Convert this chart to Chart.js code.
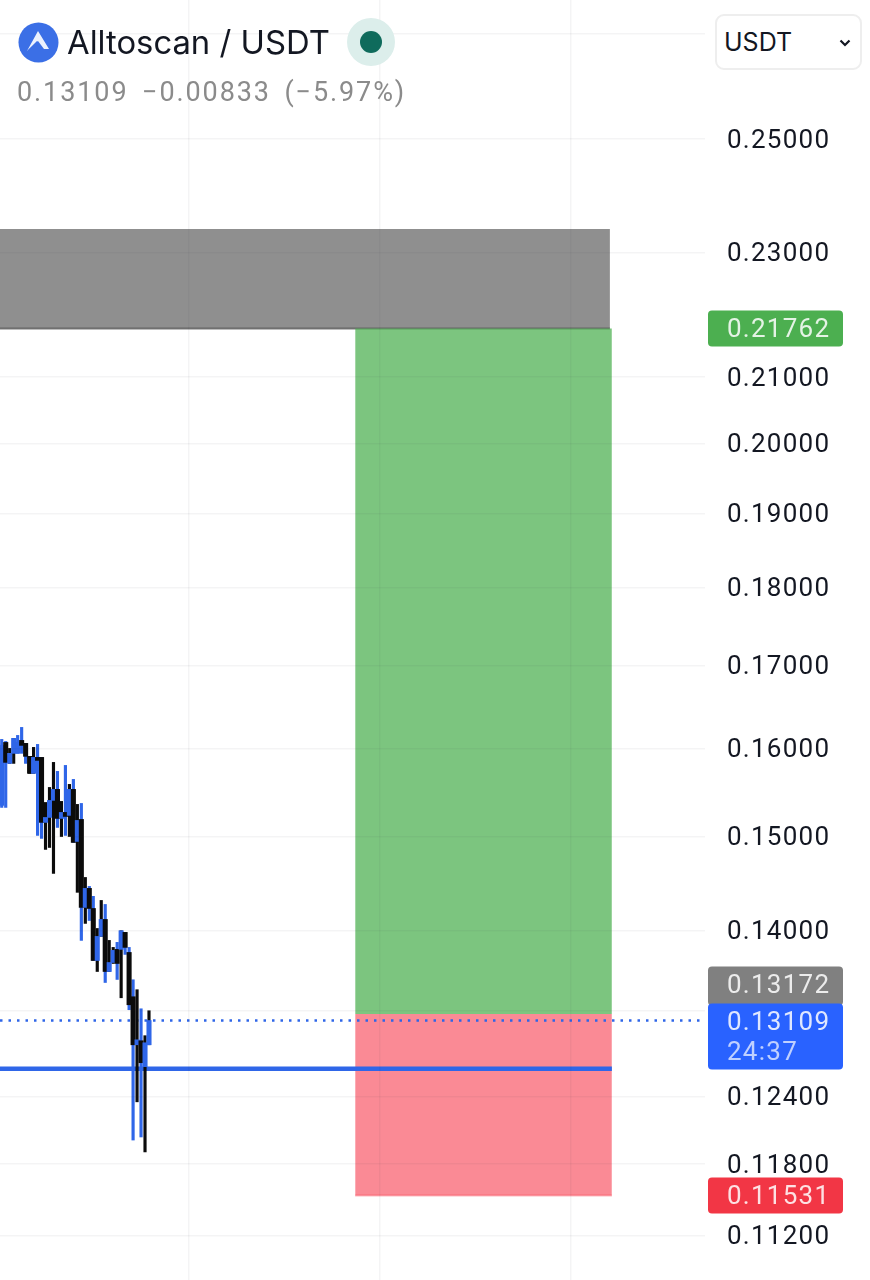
<!DOCTYPE html>
<html>
<head>
<meta charset="utf-8">
<title>Alltoscan / USDT</title>
<script src="https://cdn.jsdelivr.net/npm/chart.js@4/dist/chart.umd.min.js"></script>
<style>
    html, body { margin: 0; padding: 0; background: #fff; }
    body { width: 870px; height: 1280px; position: relative; overflow: hidden; font-family: Inter, sans-serif; }
    canvas { position: absolute; left: 0; top: 0; }
    .logo { position: absolute; left: 18px; top: 22px; width: 41px; height: 41px; }
    .title { position: absolute; left: 67px; top: 22px; font-size: 32.8px; line-height: 41px; color: #131722; white-space: nowrap; }
    .status { position: absolute; left: 347px; top: 18px; width: 48px; height: 48px; border-radius: 50%; background: #dceeeb; }
    .status div { position: absolute; left: 13px; top: 13px; width: 22px; height: 22px; border-radius: 50%; background: #0f6b5c; }
    .quote { position: absolute; left: 17px; top: 75px; font-family: Roboto, sans-serif; font-size: 27px; line-height: 35px; letter-spacing: 1.9px; word-spacing: 5px; color: #8b8b8b; white-space: pre; }
    .picker { position: absolute; left: 715px; top: 14px; width: 143px; height: 52px; border: 2px solid #eeeeee; border-radius: 9px; background: #fff; }
    .picker span { position: absolute; left: 7px; top: 9px; font-size: 25px; line-height: 34px; color: #131722; }
    .picker svg { position: absolute; left: 122px; top: 23px; }
</style>
</head>
<body>
<canvas id="chart" width="870" height="1280"></canvas>

<svg class="logo" viewBox="0 0 41 41">
    <circle cx="20.5" cy="20.5" r="20" fill="#3b6fe6"/>
    <path d="M9 29 L20 9 L31 27 L26 27 L20 19 Z" fill="#fff" opacity="0.9"/>
    <path d="M9 29 L19 19 L21 22 Z" fill="#3b6fe6"/>
</svg>
<div class="title">Alltoscan / USDT</div>
<div class="status"><div></div></div>
<div class="quote">0.13109 −0.00833 (−5.97%)</div>
<div class="picker">
    <span>USDT</span>
    <svg width="12" height="8" viewBox="0 0 12 8"><path d="M1.5 1.5 L6 6 L10.5 1.5" fill="none" stroke="#131722" stroke-width="2.2"/></svg>
</div>

<script>
// Candles, oldest first (visible part only)
const highs = [0.16106, 0.16082, 0.16000, 0.16118, 0.16153, 0.16248, 0.16059, 0.15907, 0.16012, 0.16047,
    0.15895, 0.15379, 0.15549, 0.15837, 0.15733, 0.15391, 0.15802, 0.15584, 0.15641, 0.15357,
    0.15368, 0.14557, 0.14462, 0.14357, 0.14023, 0.14314, 0.14272, 0.13901, 0.13830, 0.13881,
    0.14000, 0.13983, 0.13830, 0.13506, 0.13408, 0.13222, 0.12964, 0.13203];
const lows = [0.15323, 0.15323, 0.15825, 0.15825, 0.15942, 0.15942, 0.15825, 0.15710, 0.15710, 0.15012,
    0.14979, 0.14859, 0.14880, 0.14600, 0.15100, 0.15000, 0.15012, 0.15000, 0.14935, 0.14399,
    0.13901, 0.14075, 0.14105, 0.13698, 0.13588, 0.13942, 0.13479, 0.13588, 0.13668, 0.13509,
    0.13329, 0.13759, 0.13213, 0.12010, 0.12351, 0.12037, 0.11906, 0.12878];
const bodyTops = [0.16035, 0.16070, 0.15942, 0.16118, 0.16070, 0.16094, 0.16059, 0.15907, 0.15895, 0.15895,
    0.15895, 0.15211, 0.15402, 0.15527, 0.15527, 0.15267, 0.15267, 0.15527, 0.15527, 0.15178,
    0.15189, 0.14441, 0.14441, 0.14230, 0.13942, 0.14116, 0.14116, 0.13678, 0.13800, 0.13810,
    0.14000, 0.13983, 0.13779, 0.13339, 0.12925, 0.12916, 0.12897, 0.13109];
const bodyBottoms = [0.15346, 0.15837, 0.15825, 0.15942, 0.15942, 0.16035, 0.15907, 0.15710, 0.15710, 0.15860,
    0.15156, 0.15156, 0.15211, 0.15402, 0.15200, 0.15200, 0.15222, 0.15234, 0.14935, 0.14946,
    0.14241, 0.14241, 0.14230, 0.13698, 0.13698, 0.13942, 0.13588, 0.13588, 0.13678, 0.13668,
    0.13810, 0.13830, 0.13261, 0.12878, 0.12878, 0.12710, 0.12673, 0.12878];
// 1 = black, 0 = blue
const wickDark = [0, 0, 1, 1, 0, 0, 0, 1, 1, 0, 0, 1, 1, 1, 0, 1, 0, 1, 0, 1,
    0, 1, 0, 0, 1, 1, 0, 1, 1, 0, 1, 0, 0, 0, 1, 0, 1, 1];
const bodyDark = [0, 1, 0, 0, 0, 1, 1, 1, 0, 1, 1, 0, 0, 0, 1, 0, 1, 0, 1, 0,
    1, 0, 1, 1, 0, 0, 1, 0, 0, 1, 0, 1, 1, 1, 0, 1, 0, 0];

// Position tool, in prices and bar numbers
const stopTop = 0.23405;
const targetPrice = 0.21762;
const entryPrice = 0.13172;
const stopPrice = 0.11531;
const lastPrice = 0.13109;
const linePrice = 0.12655;
const zoneStartBar = 88.8;
const zoneEndBar = 153.3;
const greyEndBar = 152.8;

const tickValues = [0.27, 0.25, 0.23, 0.21, 0.20, 0.19, 0.18, 0.17, 0.16, 0.15, 0.14, 0.132, 0.124, 0.118, 0.112];
const gridBars = [47, 95, 143];
const countdown = '24:37';

const BLUE = '#2f66e8';
const BLACK = '#0b0b0b';
const GRID = 'rgba(42,46,57,0.05)';
const MIN_BAR = -0.437;
const MAX_BAR = 176.7;

function flatLine(y, from, to) {
    return [{ x: from, y: y }, { x: to, y: y }];
}

function roundedBox(ctx, x, y, w, h, color) {
    ctx.fillStyle = color;
    ctx.beginPath();
    ctx.roundRect(x, y, w, h, 4);
    ctx.fill();
}

// Axis digits in the picture are wider than the font's own spacing
const digitSpacing = {
    id: 'digitSpacing',
    beforeDraw(chart) {
        chart.ctx.letterSpacing = '1.25px';
    }
};

// Price tags on the right hand axis
const priceTags = {
    id: 'priceTags',
    afterDraw(chart) {
        const ctx = chart.ctx;
        const y = chart.scales.y;
        const left = 708, width = 135, textX = 727;
        const lastY = y.getPixelForValue(lastPrice);

        roundedBox(ctx, left, y.getPixelForValue(targetPrice) - 18, width, 36, '#4caf50');
        roundedBox(ctx, left, lastY - 54, width, 39, '#808080');
        roundedBox(ctx, left, y.getPixelForValue(stopPrice) - 18, width, 36, '#f23645');
        roundedBox(ctx, left, lastY - 17, width, 66, '#2962ff');

        ctx.font = '26px Roboto';
        ctx.textBaseline = 'middle';
        ctx.textAlign = 'left';
        ctx.fillStyle = 'rgba(255,255,255,0.85)';
        ctx.fillText(targetPrice.toFixed(5), textX, y.getPixelForValue(targetPrice) + 2);
        ctx.fillText(entryPrice.toFixed(5), textX, lastY - 34);
        ctx.fillText(stopPrice.toFixed(5), textX, y.getPixelForValue(stopPrice) + 2);
        ctx.fillText(lastPrice.toFixed(5), textX, lastY + 3);
        ctx.fillStyle = 'rgba(255,255,255,0.7)';
        ctx.fillText(countdown, textX, lastY + 33);
    }
};

new Chart(document.getElementById('chart'), {
    type: 'line',
    data: {
        datasets: [
            {
                data: flatLine(targetPrice, MIN_BAR, greyEndBar),
                fill: { value: stopTop },
                backgroundColor: 'rgba(128,128,128,0.88)',
                borderColor: 'rgba(90,90,90,0.8)',
                borderWidth: 2,
                pointRadius: 0,
                order: 6
            },
            {
                data: flatLine(entryPrice, zoneStartBar, zoneEndBar),
                fill: { value: targetPrice },
                backgroundColor: 'rgba(76,175,80,0.73)',
                borderWidth: 0,
                pointRadius: 0,
                order: 5
            },
            {
                data: flatLine(stopPrice, zoneStartBar, zoneEndBar),
                fill: { value: entryPrice },
                backgroundColor: 'rgba(247,54,73,0.58)',
                borderColor: 'rgba(247,54,73,0.35)',
                borderWidth: 2,
                pointRadius: 0,
                order: 4
            },
            {
                data: flatLine(lastPrice, MIN_BAR, MAX_BAR),
                borderColor: BLUE,
                borderWidth: 2.5,
                borderDash: [2.5, 6],
                pointRadius: 0,
                order: 3
            },
            {
                data: flatLine(linePrice, MIN_BAR, zoneEndBar),
                borderColor: BLUE,
                borderWidth: 4.5,
                pointRadius: 0,
                order: 3
            },
            {
                type: 'bar',
                data: highs.map((h, i) => ({ x: i, y: [lows[i], h] })),
                backgroundColor: wickDark.map(d => d ? BLACK : BLUE),
                barThickness: 2.5,
                grouped: false,
                order: 2
            },
            {
                type: 'bar',
                data: bodyTops.map((t, i) => ({ x: i, y: [bodyBottoms[i], t] })),
                backgroundColor: bodyDark.map(d => d ? BLACK : BLUE),
                barThickness: 4.4,
                grouped: false,
                order: 1
            }
        ]
    },
    options: {
        responsive: false,
        animation: false,
        layout: { padding: 0, autoPadding: false },
        plugins: {
            legend: { display: false },
            tooltip: { enabled: false }
        },
        scales: {
            x: {
                type: 'linear',
                min: MIN_BAR,
                max: MAX_BAR,
                offset: false,
                afterBuildTicks: scale => { scale.ticks = gridBars.map(v => ({ value: v })); },
                ticks: { display: false },
                grid: { color: GRID, lineWidth: 1.5, drawTicks: false, offset: false, z: 1 },
                border: { display: false }
            },
            y: {
                type: 'logarithmic',
                position: 'right',
                min: 0.1084,
                max: 0.2768,
                afterBuildTicks: scale => { scale.ticks = tickValues.map(v => ({ value: v })); },
                afterFit: scale => {
                    // keep the plot running the full canvas height
                    scale.width = 165;
                    scale.paddingTop = 0;
                    scale.paddingBottom = 0;
                },
                ticks: {
                    autoSkip: false,
                    padding: 22,
                    labelOffset: 2,
                    color: '#131722',
                    font: { family: 'Roboto', size: 26 },
                    callback: v => Number(v).toFixed(5)
                },
                grid: { color: GRID, lineWidth: 1.5, drawTicks: false, z: 1 },
                border: { display: false }
            }
        }
    },
    plugins: [digitSpacing, priceTags]
});
</script>
</body>
</html>
